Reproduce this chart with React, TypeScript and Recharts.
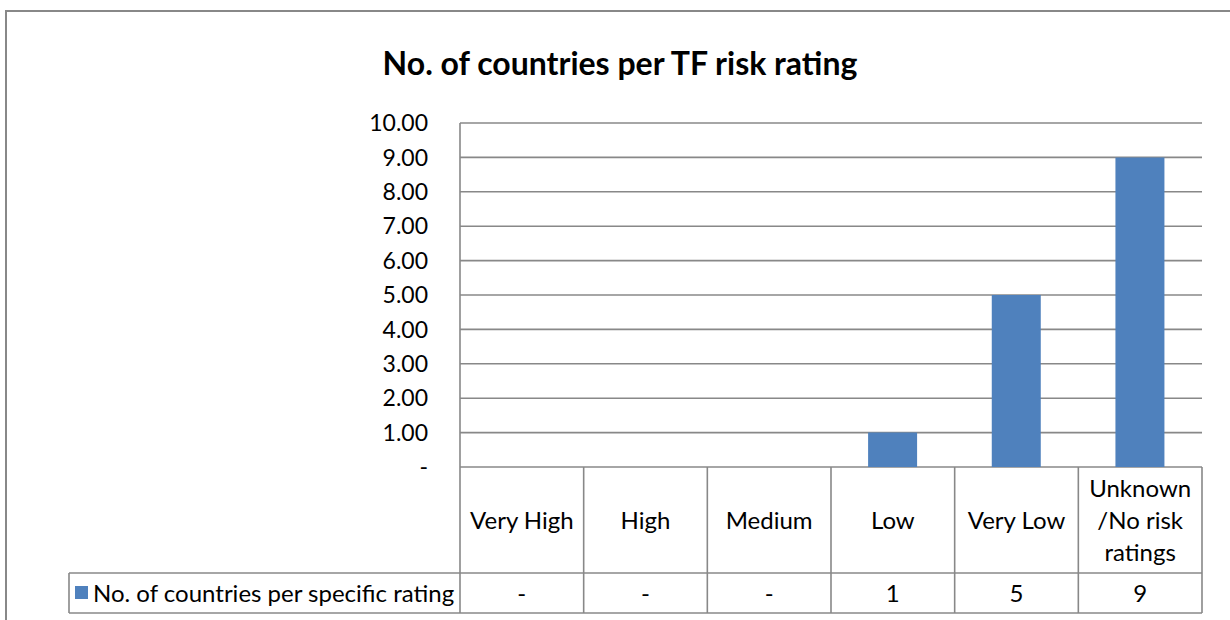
import React from 'react';
import { BarChart, Bar, XAxis, YAxis, CartesianGrid } from 'recharts';

const categories = ['Very High', 'High', 'Medium', 'Low', 'Very Low', 'Unknown\n/No risk\nratings'];
const countries = [0, 0, 0, 1, 5, 9];
const yTicks = [0, 1, 2, 3, 4, 5, 6, 7, 8, 9, 10];
const seriesName = 'No. of countries per specific rating';
const chartTitle = 'No. of countries per TF risk rating';

const data = categories.map((c, i) => ({ category: c, value: countries[i] }));

const W = 1230;
const H = 620;
const X_AXIS_H = 153;
const Y_AXIS_W = 460;
const M = { top: 123, right: 28, bottom: 0, left: 0 };
const PLOT_L = M.left + Y_AXIS_W;
const PLOT_R = W - M.right;
const PLOT_B = H - M.bottom - X_AXIS_H;
const HEADER_B = 573;
const TABLE_B = 613;
const LEGEND_L = 69;
const BAND = (PLOT_R - PLOT_L) / categories.length;
const LINE = '#888888';
const SW = 1.6;
const BLUE = '#4F81BD';
const FONT = 'Lato, "Open Sans", sans-serif';
const FS = 24;

const fmtAxis = (v: number) => (v === 0 ? '-' : v.toFixed(2));
const fmtCell = (v: number) => (v === 0 ? '-' : String(v));

function YTick(props: any) {
  const { y, payload } = props;
  return (
    <text x={PLOT_L - 32} y={y} dy="0.36em" textAnchor="end" fontSize={23} fill="#000" fontFamily={FONT}>
      {fmtAxis(payload.value)}
    </text>
  );
}

function XTick(props: any) {
  const { x, payload, index } = props;
  const lines = String(payload.value).split('\n');
  const left = x - BAND / 2;
  const right = x + BAND / 2;
  const headerMid = (PLOT_B + HEADER_B) / 2;
  const lh = 32;
  const startY = headerMid - ((lines.length - 1) * lh) / 2;
  const rowMid = (HEADER_B + TABLE_B) / 2;
  const last = index === categories.length - 1;
  return (
    <g>
      {index === 0 && (
        <g>
          <line x1={LEGEND_L} x2={PLOT_R} y1={HEADER_B} y2={HEADER_B} stroke={LINE} strokeWidth={SW} />
          <line x1={LEGEND_L} x2={PLOT_R} y1={TABLE_B} y2={TABLE_B} stroke={LINE} strokeWidth={SW} />
          <line x1={LEGEND_L} x2={LEGEND_L} y1={HEADER_B} y2={TABLE_B} stroke={LINE} strokeWidth={SW} />
          <rect x={LEGEND_L + 6} y={rowMid - 7} width={13} height={13} fill={BLUE} />
          <text x={LEGEND_L + 24} y={rowMid} dy="0.36em" fontSize={FS} fill="#000" fontFamily={FONT}>
            {seriesName}
          </text>
        </g>
      )}
      <line x1={left} x2={left} y1={PLOT_B} y2={TABLE_B} stroke={LINE} strokeWidth={SW} />
      {last && <line x1={right} x2={right} y1={PLOT_B} y2={TABLE_B} stroke={LINE} strokeWidth={SW} />}
      {lines.map((ln, i) => (
        <text key={i} x={x} y={startY + i * lh} dy="0.36em" textAnchor="middle" fontSize={FS} fill="#000" fontFamily={FONT}>
          {ln}
        </text>
      ))}
      <text x={x} y={rowMid} dy="0.36em" textAnchor="middle" fontSize={FS} fill="#000" fontFamily={FONT}>
        {fmtCell(countries[index])}
      </text>
    </g>
  );
}

export default function App() {
  return (
    <div style={{ position: 'absolute', left: 0, top: 0, width: W, height: H, overflow: 'hidden', background: '#fff' }}>
      <div
        style={{
          position: 'absolute',
          left: 5,
          top: 10,
          width: 1300,
          height: 700,
          border: `2px solid ${LINE}`,
        }}
      />
      <div
        style={{
          position: 'absolute',
          left: 0,
          top: 44,
          width: 1240,
          textAlign: 'center',
          fontFamily: FONT,
          fontWeight: 700,
          fontSize: 32,
          lineHeight: '38px',
          color: '#000',
        }}
      >
        {chartTitle}
      </div>
      <div style={{ position: 'absolute', left: 0, top: 0 }}>
        <BarChart width={W} height={H} data={data} margin={M} barCategoryGap="30%">
          <CartesianGrid vertical={false} stroke={LINE} strokeWidth={SW} />
          <YAxis
            domain={[0, 10]}
            ticks={yTicks}
            width={Y_AXIS_W}
            axisLine={{ stroke: LINE, strokeWidth: SW }}
            tickLine={false}
            tick={<YTick />}
            interval={0}
          />
          <XAxis
            dataKey="category"
            height={X_AXIS_H}
            axisLine={false}
            tickLine={false}
            tick={<XTick />}
            interval={0}
          />
          <Bar dataKey="value" name={seriesName} fill={BLUE} isAnimationActive={false} />
        </BarChart>
      </div>
    </div>
  );
}
